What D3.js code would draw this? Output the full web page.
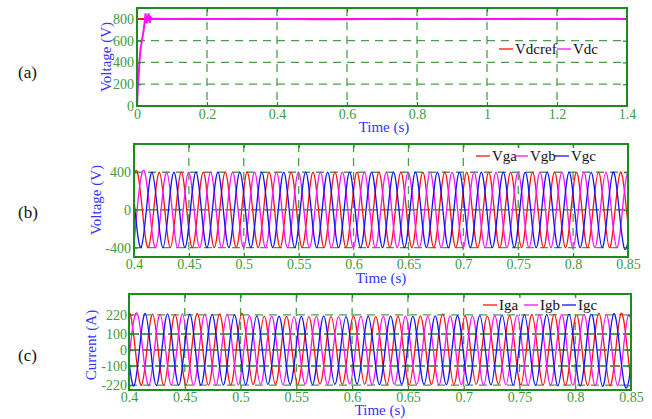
<!DOCTYPE html>
<html lang="en">
<head>
<meta charset="utf-8">
<title>DC-link voltage, grid voltage and grid current</title>
<script src="https://d3js.org/d3.v7.min.js"></script>
<style>
  body { margin: 0; background: #fff; }
  svg, svg text { font-family: "Liberation Serif", "DejaVu Serif", serif !important; }
</style>
</head>
<body>
<script>
// ---- (a) dc link voltage ----
var vdcTime = [0, 0.002, 0.005, 0.0073, 0.010, 0.014, 0.0188, 0.0226, 0.0245, 0.0265, 0.0283, 0.031, 0.0331, 0.035, 0.037, 0.0388, 0.042, 0.0455,
  0.05, 0.1, 0.15, 0.2, 0.25, 0.3, 0.35, 0.4, 0.45, 0.5, 0.55, 0.6, 0.65, 0.7, 0.75, 0.8, 0.85, 0.9, 0.95, 1.0, 1.05, 1.1, 1.15, 1.2, 1.25, 1.3, 1.35, 1.4];
var vdcValue = [0, 150, 300, 420, 520, 600, 690, 790, 850, 800, 760, 820, 850, 790, 765, 815, 805, 798,
  801, 799, 802, 800, 798, 801, 799, 802, 800, 797, 799, 796, 798, 799, 801, 800, 802, 799, 801, 800, 798, 801, 800, 799, 801, 800, 802, 800];
var vdcrefTime = [0, 1.4];
var vdcrefValue = [800, 800];
var aTicksX = [0, 0.2, 0.4, 0.6, 0.8, 1, 1.2, 1.4];
var aTicksY = [0, 200, 400, 600, 800];

// ---- (b) grid voltages: extreme values (trough, peak, ...) every half cycle ----
var halfCycle = 0.01;
var vgaStart = 0.3931, vgbStart = 0.3998, vgcStart = 0.3864;
var vga = [-400, 400, -400, 400, -400, 400, -400, 400, -400, 400, -400, 400, -400, 400, -400, 400, -400, 400, -400, 400, -400, 400, -400, 400,
  -400, 400, -400, 400, -400, 400, -400, 400, -400, 400, -400, 400, -400, 400, -400, 400, -400, 400, -400, 400, -400, 400, -400, 400];
var vgb = [-400, 400, -400, 400, -400, 400, -400, 400, -400, 400, -400, 400, -400, 400, -400, 400, -400, 400, -400, 400, -400, 400, -400, 400,
  -400, 400, -400, 400, -400, 400, -400, 400, -400, 400, -400, 400, -400, 400, -400, 400, -400, 400, -400, 400, -400, 400, -400, 400];
var vgc = [-400, 400, -400, 400, -400, 400, -400, 400, -400, 400, -400, 400, -400, 400, -400, 400, -400, 400, -400, 400, -400, 400, -400, 400,
  -400, 400, -400, 400, -400, 400, -400, 400, -400, 400, -400, 400, -400, 400, -400, 400, -400, 400, -400, 400, -400, 400, -400, 400];
var bTicksX = [0.4, 0.45, 0.5, 0.55, 0.6, 0.65, 0.7, 0.75, 0.8, 0.85];
var bTicksY = [-400, 0, 400];

// ---- (c) grid currents: extreme values every half cycle ----
var igaStart = 0.3912, igbStart = 0.3979, igcStart = 0.3845;
var iga = [-218, 222, -220, 224, -221, 223, -219, 228, -220, 225, -218, 230, -216, 212, -214, 210, -216, 208, -213, 210, -215, 212, -214, 209,
  -216, 211, -218, 213, -215, 226, -216, 214, -215, 212, -214, 215, -218, 222, -220, 224, -221, 220, -222, 230, -224, 229, -222, 220];
var igb = [-220, 221, -222, 223, -219, 225, -221, 224, -220, 222, -217, 214, -215, 211, -216, 209, -214, 210, -215, 208, -213, 211, -216, 210,
  -214, 212, -215, 211, -217, 213, -216, 212, -218, 214, -217, 218, -219, 221, -220, 222, -221, 223, -223, 221, -222, 220, -221, 219];
var igc = [-219, 220, -224, 229, -222, 226, -221, 224, -220, 223, -219, 221, -217, 213, -215, 211, -214, 210, -216, 212, -215, 209, -213, 211,
  -216, 212, -214, 210, -215, 213, -216, 214, -217, 215, -218, 219, -220, 221, -222, 223, -224, 226, -226, 228, -228, 227, -226, 224];
var cTicksX = [0.4, 0.45, 0.5, 0.55, 0.6, 0.65, 0.7, 0.75, 0.8, 0.85];
var cTicksY = [-220, -100, 0, 100, 220];

var W = 652, H = 419;
var serif = "'Liberation Serif', 'DejaVu Serif', serif";
var frameColor = "#1f8a1f", gridLight = "#4aa04a", gridDark = "#1d7d1d",
    tickText = "#3e9b3e", titleBlue = "#3434ff";
var red = "#ff1010", magenta = "#ff10ff", blue = "#1010ff";

var svg = d3.select("body").append("svg")
  .attr("width", W).attr("height", H)
  .style("font-family", serif);

function fmt(d) { return String(+d.toFixed(2)); }

function extremes(start, vals) {
  return vals.map(function(v, k) { return [start + k * halfCycle, v]; });
}

function drawPanel(p) {
  var x = d3.scaleLinear().domain(p.xDomain).range([p.left, p.right]);
  var y = d3.scaleLinear().domain(p.yDomain).range([p.bottom, p.top]);
  var g = svg.append("g");

  var clipId = "clip-" + p.id;
  svg.append("clipPath").attr("id", clipId)
    .append("rect")
    .attr("x", p.left).attr("y", p.top)
    .attr("width", p.right - p.left).attr("height", p.bottom - p.top);

  // grid
  var grid = g.append("g");
  grid.selectAll(".vg").data(p.xTicks.slice(1, -1)).enter().append("line")
    .attr("x1", function(d) { return x(d); }).attr("x2", function(d) { return x(d); })
    .attr("y1", p.top).attr("y2", p.bottom)
    .attr("stroke", gridLight).attr("stroke-width", 1.3)
    .attr("stroke-dasharray", "8,6");
  grid.selectAll(".hg").data(p.yGrid).enter().append("line")
    .attr("x1", p.left).attr("x2", p.right)
    .attr("y1", function(d) { return y(d.v); }).attr("y2", function(d) { return y(d.v); })
    .attr("stroke", function(d) { return d.dark ? gridDark : gridLight; })
    .attr("stroke-width", 1.3)
    .attr("stroke-dasharray", function(d) { return d.dark ? "10,3" : "8,6"; });

  // series
  var line = d3.line()
    .x(function(d) { return x(d[0]); })
    .y(function(d) { return y(d[1]); })
    .curve(p.curve);
  g.append("g").attr("clip-path", "url(#" + clipId + ")")
    .selectAll("path").data(p.series).enter().append("path")
    .attr("d", function(s) { return line(s.points); })
    .attr("fill", "none")
    .attr("stroke", function(s) { return s.color; })
    .attr("stroke-width", p.lineWidth);

  // legend
  var lg = g.append("g").attr("transform", "translate(" + p.legend.x + "," + p.legend.y + ")");
  if (p.legend.box) {
    lg.append("rect")
      .attr("x", p.legend.box[0]).attr("y", p.legend.box[1])
      .attr("width", p.legend.box[2]).attr("height", p.legend.box[3])
      .attr("fill", "#fff");
  }
  p.series.forEach(function(s, i) {
    var item = lg.append("g").attr("transform", "translate(" + p.legend.offsets[i] + ",0)");
    item.append("line").attr("x1", 0).attr("x2", 14).attr("y1", 0).attr("y2", 0)
      .attr("stroke", s.color).attr("stroke-width", 1.3);
    item.append("text").attr("x", 16).attr("y", 5)
      .attr("font-size", 15).attr("fill", "#111").text(s.name);
  });

  // frame
  g.append("rect")
    .attr("x", p.left).attr("y", p.top)
    .attr("width", p.right - p.left).attr("height", p.bottom - p.top)
    .attr("fill", "none").attr("stroke", frameColor).attr("stroke-width", 2);

  // axes
  var xa = g.append("g").attr("transform", "translate(0," + p.bottom + ")")
    .call(d3.axisBottom(x).tickValues(p.xTicks).tickFormat(fmt)
      .tickSizeInner(-4).tickSizeOuter(0).tickPadding(p.xPad));
  var xt = g.append("g").attr("transform", "translate(0," + p.top + ")")
    .call(d3.axisTop(x).tickValues(p.xTicks).tickFormat("").tickSizeInner(-4).tickSizeOuter(0));
  var ya = g.append("g").attr("transform", "translate(" + p.left + ",0)")
    .call(d3.axisLeft(y).tickValues(p.yTicks).tickFormat(function(d) { return String(d); })
      .tickSizeInner(-4).tickSizeOuter(0).tickPadding(p.yPad));
  var yr = g.append("g").attr("transform", "translate(" + p.right + ",0)")
    .call(d3.axisRight(y).tickValues(p.yTicks).tickFormat("").tickSizeInner(-4).tickSizeOuter(0));
  [xa, xt, ya, yr].forEach(function(a) {
    a.attr("font-family", serif).attr("font-size", 14);
    a.select(".domain").remove();
    a.selectAll(".tick line").attr("stroke", frameColor).attr("stroke-width", 1.2);
    a.selectAll("text").attr("fill", tickText);
  });

  // titles
  g.append("text").attr("x", (p.left + p.right) / 2 + p.xTitleShift).attr("y", p.xTitleY)
    .attr("text-anchor", "middle").attr("font-size", 15).attr("fill", titleBlue)
    .text("Time (s)");
  g.append("text")
    .attr("transform", "translate(" + p.yTitleX + "," + p.yTitleY + ") rotate(-90)")
    .attr("text-anchor", "middle").attr("font-size", 15).attr("fill", titleBlue)
    .text(p.yTitle);
  svg.append("text").attr("x", 18).attr("y", p.tagY)
    .attr("font-size", 17).attr("fill", "#111").text(p.tag);
}

drawPanel({
  id: "a", tag: "(a)", tagY: 78,
  left: 137, right: 627, top: 8, bottom: 106,
  xDomain: [0, 1.4], yDomain: [0, 900],
  xTicks: aTicksX, yTicks: aTicksY,
  yGrid: [{v: 200}, {v: 400}, {v: 600}, {v: 800}],
  xPad: 3, yPad: 3, lineWidth: 2, curve: d3.curveLinear,
  series: [
    {name: "Vdcref", color: red, points: vdcrefTime.map(function(t, i) { return [t, vdcrefValue[i]]; })},
    {name: "Vdc", color: magenta, points: vdcTime.map(function(t, i) { return [t, vdcValue[i]]; })}
  ],
  legend: {x: 499, y: 49, offsets: [0, 58]},
  xTitleY: 132, xTitleShift: 2, yTitle: "Voltage (V)", yTitleX: 111, yTitleY: 57
});

drawPanel({
  id: "b", tag: "(b)", tagY: 218,
  left: 134, right: 628, top: 144, bottom: 257,
  xDomain: [0.4, 0.85], yDomain: [-500, 700],
  xTicks: bTicksX, yTicks: bTicksY,
  yGrid: [{v: 400}, {v: 0, dark: true}, {v: -400}],
  xPad: 2, yPad: 3, lineWidth: 1.3, curve: d3.curveNatural,
  series: [
    {name: "Vga", color: red, points: extremes(vgaStart, vga)},
    {name: "Vgb", color: magenta, points: extremes(vgbStart, vgb)},
    {name: "Vgc", color: blue, points: extremes(vgcStart, vgc)}
  ],
  legend: {x: 476, y: 156, offsets: [0, 38, 79], box: [-6, -9, 126, 19]},
  xTitleY: 283, xTitleShift: 0, yTitle: "Voltage (V)", yTitleX: 101, yTitleY: 200
});

drawPanel({
  id: "c", tag: "(c)", tagY: 361,
  left: 129, right: 631, top: 294, bottom: 390,
  xDomain: [0.4, 0.85], yDomain: [-250, 350],
  xTicks: cTicksX, yTicks: cTicksY,
  yGrid: [{v: 220}, {v: 100, dark: true}, {v: 0, dark: true}, {v: -100, dark: true}, {v: -220}],
  xPad: 2, yPad: 2, lineWidth: 1.3, curve: d3.curveNatural,
  series: [
    {name: "Iga", color: red, points: extremes(igaStart, iga)},
    {name: "Igb", color: magenta, points: extremes(igbStart, igb)},
    {name: "Igc", color: blue, points: extremes(igcStart, igc)}
  ],
  legend: {x: 483, y: 305, offsets: [0, 41, 79], box: [-6, -9, 118, 18]},
  xTitleY: 415, xTitleShift: 0, yTitle: "Current (A)", yTitleX: 96, yTitleY: 345
});
</script>
</body>
</html>
